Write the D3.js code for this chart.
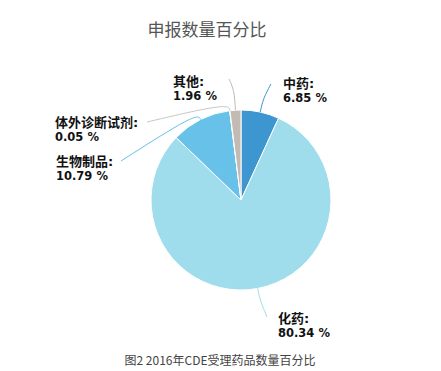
<!DOCTYPE html>
<html>
<head>
<meta charset="utf-8">
<script src="https://cdn.jsdelivr.net/npm/d3@7"></script>
<style>
  body { margin: 0; background: #fff; }
  svg { display: block; }
</style>
</head>
<body>
<div id="chart"></div>
<script>
// data
var categories = ["中药", "化药", "生物制品", "体外诊断试剂", "其他"];
var percents = [6.85, 80.34, 10.79, 0.05, 1.96];
var colors = ["#3d96cf", "#9fdcec", "#68c1e8", "#b9c9d4", "#c3bab3"];
var lineColors = ["#3d96cf", "#9fdcec", "#68c1e8", "#c8c8c8", "#c3bab3"];

var width = 441, height = 371;
var cx = 241, cy = 200, radius = 90;

// where each leader line ends, relative to pie centre, and where its label sits
var layout = {
  "中药":       { end: [30, -116], out: 14, label: [283, 88] },
  "化药":       { end: [26, 117],  out: 12, label: [278, 323] },
  "生物制品":   { end: [-120, -39], out: 8, label: [56, 166] },
  "体外诊断试剂": { end: [-94, -78], out: 8, label: [55, 127] },
  "其他":       { end: [-12, -121], out: 20, label: [173, 86] }
};

var svg = d3.select("#chart").append("svg")
  .attr("width", width)
  .attr("height", height);

svg.append("text")
  .attr("x", 207).attr("y", 36)
  .attr("text-anchor", "middle")
  .attr("font-family", "'Noto Sans CJK SC', sans-serif")
  .attr("font-size", 17)
  .attr("fill", "#555")
  .text("申报数量百分比");

var pie = d3.pie().sort(null).value(function(d) { return d; });
var arcs = pie(percents);

var arc = d3.arc().innerRadius(0).outerRadius(radius);

var g = svg.append("g").attr("transform", "translate(" + cx + "," + cy + ")");

g.selectAll("path.slice")
  .data(arcs)
  .enter().append("path")
  .attr("class", "slice")
  .attr("d", arc)
  .attr("fill", function(d, i) { return colors[i]; })
  .attr("stroke", "#fff")
  .attr("stroke-width", 1);

var line = d3.line().curve(d3.curveBasis);

g.selectAll("path.leader")
  .data(arcs)
  .enter().append("path")
  .attr("class", "leader")
  .attr("fill", "none")
  .attr("stroke", function(d, i) { return lineColors[i]; })
  .attr("stroke-width", 1)
  .attr("d", function(d, i) {
    var L = layout[categories[i]];
    var a = (d.startAngle + d.endAngle) / 2;
    var p0 = [Math.sin(a) * radius, -Math.cos(a) * radius];
    var p1 = [Math.sin(a) * (radius + L.out), -Math.cos(a) * (radius + L.out)];
    return line([p0, p1, L.end]);
  });

var labels = svg.selectAll("text.lbl")
  .data(arcs)
  .enter().append("text")
  .attr("class", "lbl")
  .attr("font-family", "'DejaVu Sans', 'Noto Sans CJK SC', sans-serif")
  .attr("font-weight", "bold")
  .attr("fill", "#111");

labels.append("tspan")
  .attr("x", function(d, i) { return layout[categories[i]].label[0]; })
  .attr("y", function(d, i) { return layout[categories[i]].label[1]; })
  .attr("font-size", 13)
  .text(function(d, i) { return categories[i] + ":"; });

labels.append("tspan")
  .attr("x", function(d, i) { return layout[categories[i]].label[0]; })
  .attr("y", function(d, i) { return layout[categories[i]].label[1] + 14; })
  .attr("font-size", 11.5)
  .text(function(d, i) { return percents[i].toFixed(2) + " %"; });

svg.append("text")
  .attr("x", 220).attr("y", 365)
  .attr("text-anchor", "middle")
  .attr("font-family", "'Noto Sans CJK SC', sans-serif")
  .attr("font-size", 12)
  .attr("fill", "#444")
  .text("图2 2016年CDE受理药品数量百分比");
</script>
</body>
</html>
